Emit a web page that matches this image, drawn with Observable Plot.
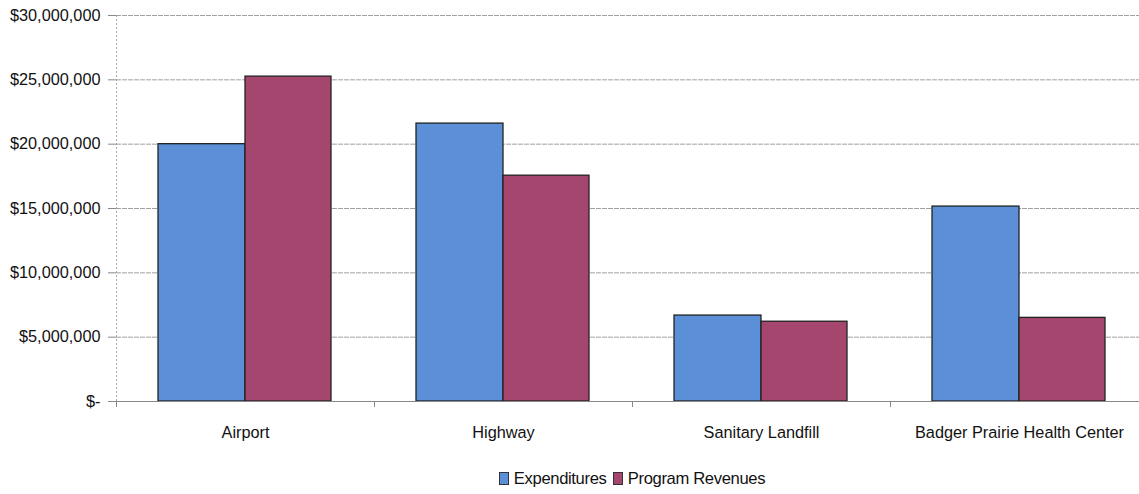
<!DOCTYPE html>
<html>
<head>
<meta charset="utf-8">
<script src="https://cdn.jsdelivr.net/npm/d3@7"></script>
<script src="https://cdn.jsdelivr.net/npm/@observablehq/plot@0.6"></script>
<style>
  html, body { margin: 0; padding: 0; background: #fff; overflow: hidden; }
  #wrap { width: 1139px; height: 494px; overflow: hidden; position: relative; font-family: "Liberation Sans", Arial, sans-serif; }
  #chart svg { max-width: none !important; }
  #legend { position: absolute; left: 0; top: 469px; width: 1264px; text-align: center; font-size: 16.6px; letter-spacing: -0.35px; color: #111; }
  #legend span.sw { display: inline-block; width: 8px; height: 11px; border: 1px solid #333; vertical-align: -1px; margin-right: 5px; }
  #legend span.item { margin: 0 1px; }
</style>
</head>
<body>
<div id="wrap"><div id="chart"></div><div id="legend"></div></div>
<script>
const categories = ["Airport", "Highway", "Sanitary Landfill", "Badger Prairie Health Center"];
const seriesNames = ["Expenditures", "Program Revenues"];
const expenditures = [20000000, 21600000, 6680000, 15150000];
const programRevenues = [25250000, 17550000, 6200000, 6500000];
const yTicks = [0, 5000000, 10000000, 15000000, 20000000, 25000000, 30000000];
const colors = ["#5b8fd8", "#a5466f"];

const expData = categories.map((c, i) => ({category: c, series: seriesNames[0], value: expenditures[i]}));
const revData = categories.map((c, i) => ({category: c, series: seriesNames[1], value: programRevenues[i]}));

const fmt = v => v === 0 ? "$-" : "$" + d3.format(",")(v);

const chart = Plot.plot({
  width: 1148,
  height: 455,
  marginLeft: 116,
  marginRight: 0,
  marginTop: 15,
  marginBottom: 54,
  style: {fontFamily: "'Liberation Sans', Arial, sans-serif", fontSize: "16.3px", color: "#111", background: "#fff", maxWidth: "none"},
  x: {domain: categories, padding: 0, label: null},
  y: {domain: [0, 30000000], label: null},
  color: {domain: seriesNames, range: colors},
  marks: [
    Plot.ruleY(yTicks.filter(d => d > 0), {stroke: "#a0a0a0", strokeWidth: 1, strokeDasharray: "5,1"}),
    Plot.ruleX([categories[0]], {dx: -129, y1: 0, y2: 30000000, stroke: "#aaa", strokeDasharray: "2,2"}),
    Plot.barY(expData, {x: "category", y: "value", fill: "series", insetLeft: 42, insetRight: 129, stroke: "#222", strokeWidth: 1.3}),
    Plot.barY(revData, {x: "category", y: "value", fill: "series", insetLeft: 129, insetRight: 43, stroke: "#222", strokeWidth: 1.3}),
    Plot.ruleY([0], {stroke: "#888"}),
    Plot.axisY({ticks: yTicks, tickFormat: fmt, tickSize: 8, tickPadding: 8, stroke: "#888", label: null, style: {letterSpacing: "-0.6px"}}),
    Plot.axisX({tickFormat: () => "", tickSize: 6, dx: -129, stroke: "#888", label: null}),
    Plot.axisX({tickSize: 0, tickPadding: 25, label: null, style: {letterSpacing: "-0.6px"}})
  ]
});
document.getElementById("chart").appendChild(chart);

const legend = document.getElementById("legend");
seriesNames.forEach((s, i) => {
  const item = document.createElement("span");
  item.className = "item";
  const sw = document.createElement("span");
  sw.className = "sw";
  sw.style.background = colors[i];
  item.appendChild(sw);
  item.appendChild(document.createTextNode(s));
  legend.appendChild(item);
  if (i < seriesNames.length - 1) legend.appendChild(document.createTextNode(" "));
});
</script>
</body>
</html>
